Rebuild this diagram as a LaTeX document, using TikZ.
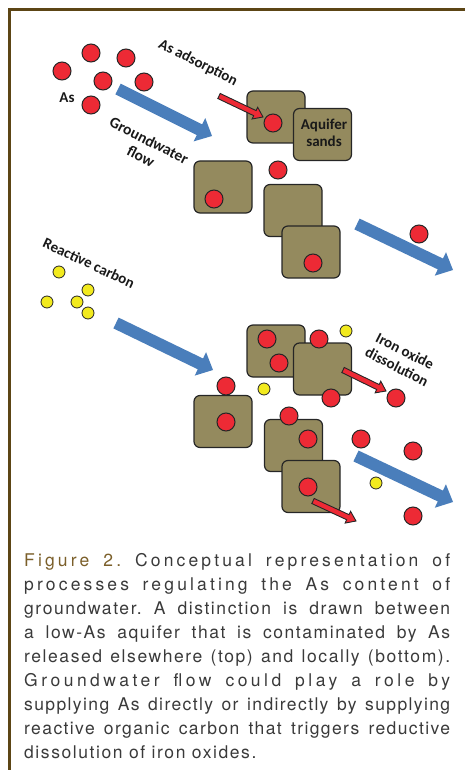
\documentclass[tikz,border=0pt]{standalone}
\usepackage{fontspec}
\usetikzlibrary{calc}
\newfontfamily\labfont{Carlito}
\newfontfamily\capfont{TeX Gyre Heros}
\definecolor{framec}{HTML}{5C4515}
\definecolor{sandc}{HTML}{948A5E}
\definecolor{redc}{HTML}{ED2A35}
\definecolor{bluec}{HTML}{4A7EBB}
\definecolor{yelc}{HTML}{F2EA1E}
\definecolor{capc}{HTML}{3A3A3A}
\definecolor{figc}{HTML}{7B5F2A}
\frenchspacing
\newcommand\fatarr[6]{%
  \coordinate (hb) at ($(#3)!#6!(#2)$);
  \path[#1] ($(#2)!#4!90:(#3)$) -- ($(hb)!#4!-90:(#2)$) -- ($(hb)!#5!-90:(#2)$) -- (#3)
    -- ($(hb)!#5!90:(#2)$) -- ($(hb)!#4!90:(#2)$) -- ($(#2)!#4!-90:(#3)$) -- cycle;}
\newcommand\capline[3]{\node[capnode] at (24,#1) {\addfontfeature{LetterSpace=#2}\makebox[426pt][s]{#3}};}
\begin{document}
\begin{tikzpicture}[x=1pt,y=-1pt,
  sq/.style={draw=black!85, fill=sandc, line width=1.2pt, rounded corners=6pt, minimum width=58pt, minimum height=52pt, inner sep=0pt},
  rdot/.style={circle, draw=black!85, fill=redc, line width=1pt, minimum size=18pt, inner sep=0pt},
  ydot/.style={circle, draw=black!85, fill=yelc, line width=0.8pt, minimum size=12pt, inner sep=0pt},
  lab/.style={font=\labfont\bfseries\fontsize{15}{17.5}\selectfont, text=black!90, inner sep=0pt, align=center},
  bluearr/.style={fill=bluec},
  redarr/.style={fill=redc, draw=black!85, line width=0.9pt, line join=miter},
  capnode/.style={anchor=base west, inner sep=0pt, font=\capfont\fontsize{17.5}{24}\selectfont, text=capc}]
\useasboundingbox (0,0) rectangle (465,770);
% frame
\draw[framec, line width=3pt] (9.5,770) -- (9.5,9.5) -- (465,9.5);
% squares top
\node[sq] (sqA) at (276,117) {};
\node[sq] (sqB) at (322.5,134.5) {};
\node[sq] (sqC) at (223,187) {};
\node[sq] (sqD) at (293,210.5) {};
\node[sq] (sqE) at (311,252) {};
% squares bottom
\node[sq] (sqF) at (276,351) {};
\node[sq] (sqG) at (322.5,369) {};
\node[sq] (sqH) at (223,421.5) {};
\node[sq] (sqI) at (293.5,445.5) {};
\node[sq] (sqJ) at (311,486.5) {};
% red dots top
\foreach \p [count=\i] in {(62,71),(91,53),(126,58),(103,81),(144,82),(91,105),(273,123),(278,170),(214,199),(313,263),(419,234)}
  \node[rdot] (rt\i) at \p {};
% red dots bottom
\foreach \p [count=\i] in {(267,339),(279,363),(319,339),(331,398),(396,398),(226,386),(226,422),(289,416),(308,439),(361,439),(413,451),(308,487),(413,516)}
  \node[rdot] (rb\i) at \p {};
% yellow dots
\foreach \p [count=\i] in {(59,272),(88,290),(47,302),(77,302),(88,313),(346,331),(264,389),(376,483)}
  \node[ydot] (yd\i) at \p {};
% blue arrows
\coordinate (b1s) at (118,89);  \coordinate (b1e) at (212,136);
\coordinate (b2s) at (116,323); \coordinate (b2e) at (213,370);
\coordinate (b3s) at (357,224); \coordinate (b3e) at (453,270);
\coordinate (b4s) at (356,456); \coordinate (b4e) at (453,502);
\fatarr{bluearr}{b1s}{b1e}{6pt}{13pt}{14pt}
\fatarr{bluearr}{b2s}{b2e}{6pt}{13pt}{14pt}
\fatarr{bluearr}{b3s}{b3e}{6pt}{13pt}{14pt}
\fatarr{bluearr}{b4s}{b4e}{6pt}{13pt}{14pt}
% red arrows
\coordinate (r1s) at (219,96);  \coordinate (r1e) at (263,117);
\coordinate (r2s) at (343,370); \coordinate (r2e) at (386,391);
\coordinate (r3s) at (313,501); \coordinate (r3e) at (356,521);
\fatarr{redarr}{r1s}{r1e}{2.8pt}{6.5pt}{9pt}
\fatarr{redarr}{r2s}{r2e}{2.8pt}{6.5pt}{9pt}
\fatarr{redarr}{r3s}{r3e}{2.8pt}{6.5pt}{9pt}
% labels
\node[lab] (lAs) at (67,98) {As};
\node[lab, rotate=-27] (lads) at (198,63) {As adsorption};
\node[lab, rotate=-27, font=\labfont\bfseries\fontsize{15.5}{18}\selectfont] (lgw) at (145,148.5) {Groundwater\\flow};
\node[lab] (laq) at (324,133) {Aquifer\\sands};
\node[lab, rotate=-25] (lrc) at (89,263) {Reactive carbon};
\node[lab, rotate=-27] (lio) at (401,359) {Iron oxide\\dissolution};
% caption
\capline{566}{18}{{\color{figc}Figure 2.} Conceptual representation of}
\capline{590}{18}{processes regulating the As content of}
\capline{614}{9}{groundwater. A distinction is drawn between}
\capline{638}{9}{a low-As aquifer that is contaminated by As}
\capline{662}{9}{released elsewhere (top) and locally (bottom).}
\capline{686}{20}{Groundwater flow could play a role by}
\capline{710}{8}{supplying As directly or indirectly by supplying}
\capline{734}{8}{reactive organic carbon that triggers reductive}
\node[capnode] (cap9) at (24,758) {\addfontfeature{LetterSpace=9}dissolution of iron oxides.};
\end{tikzpicture}
\end{document}
